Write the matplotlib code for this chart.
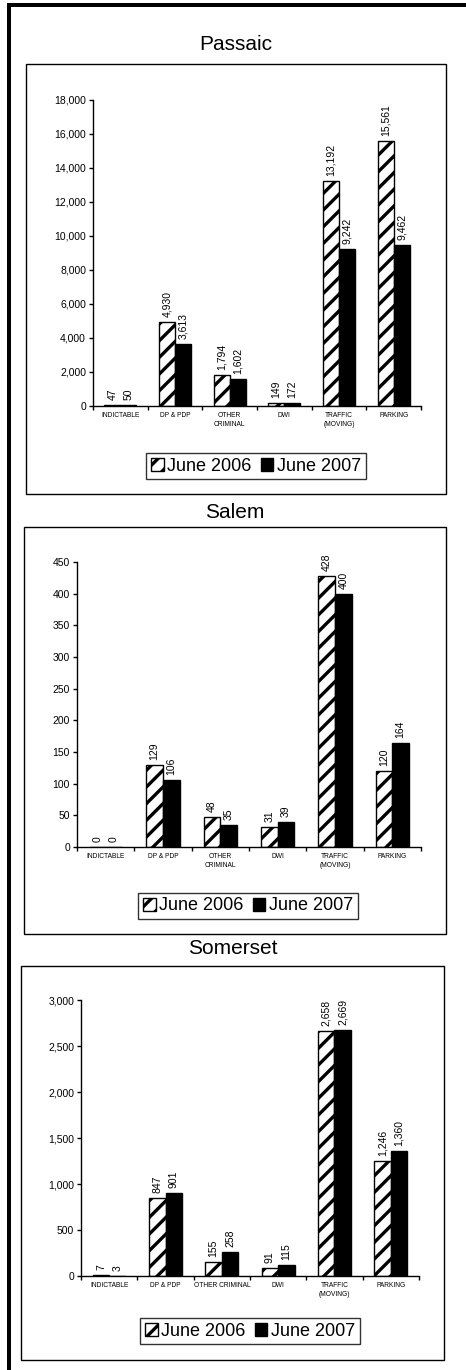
import matplotlib.pyplot as plt
import numpy as np
from matplotlib.patches import Rectangle, Patch
from matplotlib.ticker import FuncFormatter, MultipleLocator

plt.rcParams['font.family'] = 'Liberation Sans'
plt.rcParams['hatch.linewidth'] = 2.4

# data
counties = ["Passaic", "Salem", "Somerset"]
cats_two_line = ["INDICTABLE", "DP & PDP", "OTHER\nCRIMINAL", "DWI", "TRAFFIC\n(MOVING)", "PARKING"]
cats_somerset = ["INDICTABLE", "DP & PDP", "OTHER CRIMINAL", "DWI", "TRAFFIC\n(MOVING)", "PARKING"]
series_names = ["June 2006", "June 2007"]

passaic_2006 = [47, 4930, 1794, 149, 13192, 15561]
passaic_2007 = [50, 3613, 1602, 172, 9242, 9462]
salem_2006 = [0, 129, 48, 31, 428, 120]
salem_2007 = [0, 106, 35, 39, 400, 164]
somerset_2006 = [7, 847, 155, 91, 2658, 1246]
somerset_2007 = [3, 901, 258, 115, 2669, 1360]

W, H = 466, 1370
fig = plt.figure(figsize=(W / 100, H / 100), dpi=100)


def fx(px):
    return px / W


def fy(py):
    return 1 - py / H


# outer border (top and left only)
fig.patches.append(Rectangle((fx(7), fy(7)), 1 - fx(7), 4 / H, transform=fig.transFigure,
                             facecolor='black', edgecolor='none'))
fig.patches.append(Rectangle((fx(7), 0), 4 / W, fy(3), transform=fig.transFigure,
                             facecolor='black', edgecolor='none'))


def panel(title, cats, v06, v07, ymax, ystep, title_y, box, axbox, leg_c):
    fig.text(fx((box[0] + box[2]) / 2), fy(title_y), title, ha='center', va='center', fontsize=15)
    bx0, by0, bx1, by1 = box
    fig.patches.append(Rectangle((fx(bx0), fy(by1)), (bx1 - bx0) / W, (by1 - by0) / H,
                                 transform=fig.transFigure, facecolor='none',
                                 edgecolor='black', linewidth=1.0))
    l, t, r, b = axbox
    ax = fig.add_axes([fx(l), fy(b), (r - l) / W, (b - t) / H])
    x = np.arange(len(cats))
    w = 0.29
    ax.bar(x - w / 2, v06, w, facecolor='white', edgecolor='black', hatch='//', linewidth=1.0)
    ax.bar(x + w / 2, v07, w, facecolor='black', edgecolor='black', linewidth=1.0)
    off = ymax * 5 / (b - t)
    for i in range(len(cats)):
        ax.text(x[i] - w / 2, v06[i] + off, f"{v06[i]:,}", rotation=90, ha='center', va='bottom', fontsize=7.5)
        ax.text(x[i] + w / 2, v07[i] + off, f"{v07[i]:,}", rotation=90, ha='center', va='bottom', fontsize=7.5)
    ax.set_xlim(-0.5, len(cats) - 0.5)
    ax.set_ylim(0, ymax)
    ax.yaxis.set_major_locator(MultipleLocator(ystep))
    ax.yaxis.set_major_formatter(FuncFormatter(lambda v, p: f"{int(v):,}"))
    ax.set_xticks(x)
    ax.set_xticklabels(cats, fontsize=4.8, linespacing=1.5, va='top')
    ax.tick_params(axis='x', which='major', length=0, pad=4)
    ax.set_xticks(np.arange(-0.5, len(cats), 1.0), minor=True)
    ax.tick_params(axis='x', which='minor', length=3, width=1.0, direction='out')
    ax.tick_params(axis='y', length=3, width=1.0, labelsize=7.5, pad=2)
    ax.spines['top'].set_visible(False)
    ax.spines['right'].set_visible(False)
    ax.spines['left'].set_linewidth(1.0)
    ax.spines['bottom'].set_linewidth(1.0)
    ax.patch.set_alpha(0)
    handles = [Patch(facecolor='white', edgecolor='black', hatch='//', linewidth=1.0),
               Patch(facecolor='black', edgecolor='black', linewidth=1.0)]
    leg = ax.legend(handles, series_names, loc='center', bbox_to_anchor=(fx(leg_c[0]), fy(leg_c[1])),
                    bbox_transform=fig.transFigure, ncol=2, frameon=True, fancybox=False,
                    edgecolor='black', fontsize=13, handlelength=0.7, handleheight=0.7,
                    handletextpad=0.2, columnspacing=0.5, borderpad=0.25, borderaxespad=0)
    leg.get_frame().set_linewidth(1.0)
    return ax


panel(counties[0], cats_two_line, passaic_2006, passaic_2007, 18000, 2000,
      45, (26, 64, 446, 494), (93, 99.5, 421, 406), (256, 466))
panel(counties[1], cats_two_line, salem_2006, salem_2007, 450, 50,
      512, (24, 527, 446, 934), (77, 562, 421, 847), (248, 906))
panel(counties[2], cats_somerset, somerset_2006, somerset_2007, 3000, 500,
      949, (21, 966, 444, 1360), (81, 1000, 419, 1276), (250, 1331))

fig.savefig("out.png", dpi=100)
